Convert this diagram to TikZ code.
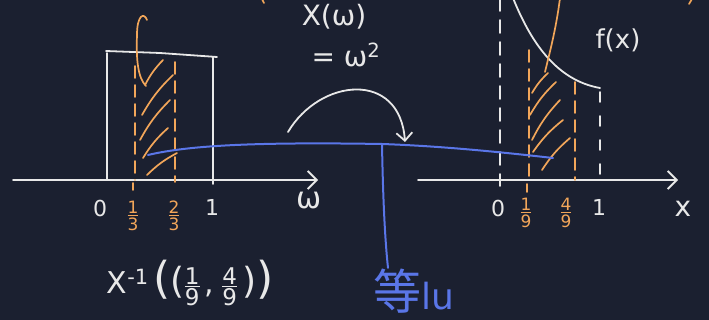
\documentclass[tikz,border=0pt]{standalone}
\usepackage{fontspec}
\setmainfont{DejaVu Sans}
\newfontfamily\cjk{Noto Sans CJK SC}
\usetikzlibrary{arrows.meta, calc}
\definecolor{board}{HTML}{1B2030}
\definecolor{chalk}{HTML}{E8E8E8}
\definecolor{peach}{HTML}{F2A65A}
\definecolor{penblue}{HTML}{5A76E8}
\newcommand{\hfr}[2]{\ensuremath{\vcenter{\halign{\hfil##\hfil\cr #1\cr
  \noalign{\kern1pt\hrule height 1.3pt\kern2pt}#2\cr}}}}
\newcommand{\fs}[1]{\fontsize{#1}{#1}\selectfont}

\begin{document}
\begin{tikzpicture}[x=1pt, y=-1pt, line cap=round, line join=round,
    chalk, line width=1.8pt, font=\fs{22},
    axis/.style={-{Straight Barb[length=9pt, width=18pt]}},
    hatch/.style={peach, line width=1.7pt},
    cut/.style={peach, line width=1.7pt, dash pattern=on 12pt off 7pt},
    guide/.style={chalk, dash pattern=on 13pt off 9pt},
    ink/.style={penblue, line width=2pt},
    frac/.style={peach, font=\fs{17}}]
  % Tabule
  \fill[board] (0,0) rectangle (709,320);
  \useasboundingbox (0,0) rectangle (709,320);

  % Levá osa a hustota na (0,1)
  \draw[axis] (13,180) -- (318,180);
  \draw (107,180) -- (107,53);
  \draw (106,51) -- (160,53) -- (217,57);
  \draw (213,57) -- (213,184);
  \draw[cut] (135,66) -- (135,180);
  \draw[cut] (175,62) -- (175,182);
  \draw[hatch] (133,183) -- (133,190);
  \foreach \xa/\ya/\xb/\yb in {145/85/163/60, 142/115/173/75, 140/140/170/100,
      143/158/168/128, 147/175/177/153}
    \draw[hatch] (\xa,\ya) to[bend left=8] (\xb,\yb);
  \draw[hatch] (147,20) .. controls (144,12) and (137,15) .. (137,35)
    .. controls (136,60) and (138,78) .. (146,86);

  \node (zeroL) at (100,208) {0};
  \node[frac] (third) at (133,216) {\hfr{1}{3}};
  \node[frac] (twothird) at (174,216) {\hfr{2}{3}};
  \node (oneL) at (212,207) {1};
  \node[font=\fs{30}] (omega) at (309,201) {ω};
  \node[font=\fs{30}] (preimg) at (190,283)
    {X\textsuperscript{-1}\,{\fs{44}(}{\fs{36}(}{\fs{23}\hfr{1}{9}}\,,\;{\fs{23}\hfr{4}{9}}\,{\fs{36})}{\fs{44})}};

  % Zobrazení X
  \node[font=\fs{28}] (map) at (334,17) {X(ω)};
  \node[font=\fs{28}] (sq) at (346,55) {= ω\textsuperscript{2}};
  \coordinate (arcS) at (288,132);
  \coordinate (arcE) at (405,142);
  \draw[-{Straight Barb[length=8pt, width=16pt]}] (arcS)
    .. controls (320,78) and (400,70) .. (arcE);

  % Pravá osa a hustota f
  \draw[axis] (418,180) -- (678,180);
  \draw[guide] (500,-2) -- (500,186);
  \draw[guide, dash pattern=on 10pt off 14pt] (600,92) -- (600,184);
  \draw (513,-2) .. controls (530,40) and (555,80) .. (600,88);
  \draw[cut] (529,50) -- (529,180);
  \draw[cut] (575,82) -- (575,180);
  \draw[hatch] (527,184) -- (527,192);
  \foreach \xa/\ya/\xb/\yb in {532/93/548/73, 530/115/556/82, 532/140/560/100,
      533/152/563/120, 542/170/570/138}
    \draw[hatch] (\xa,\ya) to[bend left=8] (\xb,\yb);
  \draw[hatch] (560,-2) .. controls (556,30) and (549,55) .. (545,72);
  \draw[hatch] (262,-1) -- (264,3);
  \draw[hatch] (692,-1) -- (689,4);

  \node[font=\fs{26}] (fx) at (618,40) {f(x)};
  \node (zeroR) at (498,208) {0};
  \node[frac] (ninth) at (526,213) {\hfr{1}{9}};
  \node[frac] (fourninth) at (566,213) {\hfr{4}{9}};
  \node (oneR) at (599,207) {1};
  \node[font=\fs{28}] (xlab) at (683,209) {x};

  % Stejná míra
  \node[penblue, inner sep=0pt] (eq) at (414,291)
    {{\cjk\fs{48}等}{\fs{36}lu}};
  \coordinate (bl) at (148,155);
  \coordinate (bm) at (382,144);
  \coordinate (br) at (553,158);
  \draw[ink] (bl) .. controls (190,145) and (260,142) .. (bm)
    .. controls (440,146) and (500,152) .. (br);
  \draw[ink] (bm) .. controls (383,200) and (385,240) .. (eq.north -| 388,0);
\end{tikzpicture}
\end{document}
